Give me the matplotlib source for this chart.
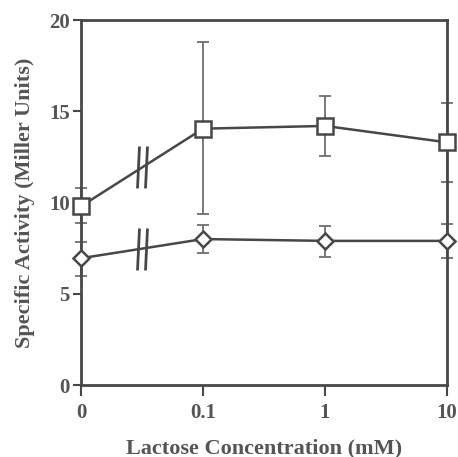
import numpy as np
import matplotlib
matplotlib.use("Agg")
import matplotlib.pyplot as plt
from matplotlib.transforms import offset_copy, Affine2D
from matplotlib.markers import MarkerStyle

### DATA ###

conc_labels = ["0", "0.1", "1", "10"]
square_vals = [9.8, 14.05, 14.2, 13.3]
square_hi = [10.8, 18.8, 15.85, 15.45]
square_lo = [8.9, 9.35, 12.55, 11.15]
diamond_vals = [6.95, 8.0, 7.9, 7.9]
diamond_hi = [7.85, 8.75, 8.7, 8.8]
diamond_lo = [6.0, 7.25, 7.0, 6.95]

### STYLE ###

plt.rcParams['font.family'] = ['Liberation Serif', 'DejaVu Serif']
plt.rcParams['font.weight'] = 'bold'
text_col = "#555555"
line_col = "#474747"
err_col = "#6e6e6e"

fig = plt.figure(figsize=(4.58, 4.57), dpi=100)
ax = fig.add_axes([0.177, 0.1575, 0.799, 0.7985])

x = np.arange(len(conc_labels))
brk = MarkerStyle('|', transform=Affine2D().rotate_deg(-4))

def draw_series(vals, lo, hi, marker, ms):
    vals = np.array(vals)
    yerr = [vals - np.array(lo), np.array(hi) - vals]
    ax.errorbar(x, vals, yerr=yerr, fmt='none', ecolor=err_col, elinewidth=1.3,
                capsize=4, capthick=1.3, clip_on=False, zorder=2)
    ax.plot(x, vals, color=line_col, lw=1.8, marker=marker, ms=ms, mfc='white',
            mec=line_col, mew=1.8, clip_on=False, zorder=3)
    # axis break marks on the first segment
    mx = (x[0] + x[1]) / 2
    my = (vals[0] + vals[1]) / 2
    for dx in (-3.0, 3.0):
        tr = offset_copy(ax.transData, fig=fig, x=dx, y=0, units='points')
        ax.plot([mx], [my], marker=brk, ms=30, mec=line_col, mew=2.0,
                transform=tr, clip_on=False, zorder=4)

draw_series(square_vals, square_lo, square_hi, 's', 12)
draw_series(diamond_vals, diamond_lo, diamond_hi, 'D', 8)

ax.set_xlim(0, 3)
ax.set_ylim(0, 20)
ax.set_xticks(x)
ax.set_xticklabels(conc_labels)
ax.set_yticks([0, 5, 10, 15, 20])

for sp in ax.spines.values():
    sp.set_color(line_col)
    sp.set_linewidth(2)

ax.tick_params(axis='x', direction='out', length=8, width=1.5, color=line_col,
               labelsize=15, labelcolor=text_col, pad=5)
ax.tick_params(axis='y', direction='out', length=6, width=1.5, color=line_col,
               labelsize=15, labelcolor=text_col, pad=2)

ax.set_xlabel("Lactose Concentration (mM)", fontsize=16, color=text_col,
              fontweight='bold', labelpad=11)
ax.set_ylabel("Specific Activity (Miller Units)", fontsize=16, color=text_col,
              fontweight='bold', labelpad=10)

plt.savefig("out.png", dpi=100)
